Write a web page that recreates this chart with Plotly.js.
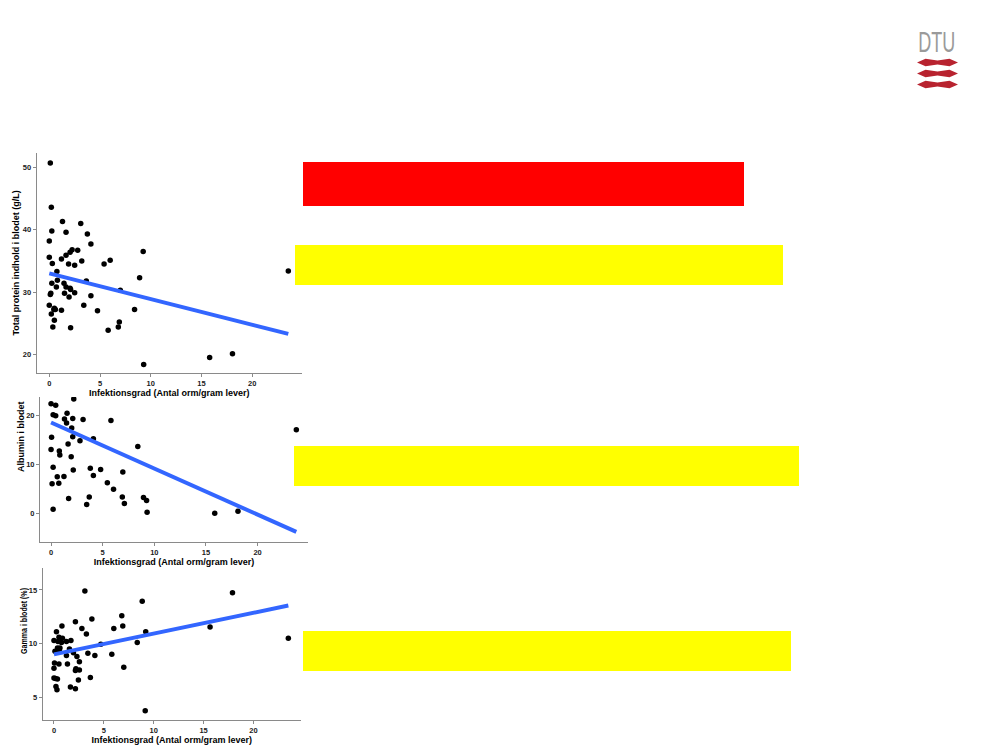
<!DOCTYPE html>
<html><head><meta charset="utf-8">
<script src="https://cdn.plot.ly/plotly-3.0.1.min.js"></script>
<style>html,body{margin:0;padding:0;background:#fff;}</style>
</head><body>
<div id="chart" style="width:1000px;height:750px"></div>
<script>
// ---------- data ----------
const xAxisTitle = 'Infektionsgrad (Antal orm/gram lever)';
const yTitles = ['Total protein indhold i blodet (g/L)', 'Albumin i blodet', 'Gamma i blodet (%)'];
const xTicks = [0, 5, 10, 15, 20];
const protTicks = [20, 30, 40, 50];
const albTicks = [0, 10, 20];
const gamTicks = [5, 10, 15];

const protX = [0.1,0.2,1.3,3.1,0.25,1.65,3.75,0.0,4.1,2.25,2.8,2.05,9.25,0.0,1.2,1.65,3.2,0.3,1.9,2.5,5.4,6.0,0.75,8.9,0.25,0.8,1.45,3.65,1.65,2.05,2.1,0.7,7.0,1.5,0.1,0.15,2.5,1.95,4.1,0.0,3.4,0.5,0.45,0.6,1.2,4.75,8.4,0.2,0.5,0.35,2.1,5.8,6.8,6.9,9.3,15.8,18.05,23.55];
const protY = [50.7,43.6,41.3,41.0,39.8,39.6,39.3,38.2,37.7,36.8,36.7,36.4,36.5,35.6,35.3,35.9,35.0,34.6,34.5,34.3,34.5,35.1,33.3,32.3,31.4,31.9,31.4,31.8,30.8,30.6,30.4,30.8,30.3,29.8,29.6,29.8,29.9,29.2,29.4,27.9,27.9,27.4,27.2,27.2,27.1,27.0,27.2,26.5,25.5,24.4,24.3,23.9,24.4,25.2,18.4,19.5,20.1,33.4];
const protFitX = [0, 23.55];
const protFitY = [33.0, 23.3];

const albX = [0,0.45,2.2,0.2,0.45,1.55,1.3,2.1,1.5,3.1,5.8,2.0,0.05,2.1,4.1,2.8,1.65,8.4,0,0.8,0.85,1.95,0.2,3.8,4.8,2.15,6.95,4.1,0.6,1.25,0.75,0.1,5.45,6.05,6.9,3.7,1.7,8.95,9.25,7.1,3.45,0.2,9.3,15.85,18.1,23.75];
const albY = [22.4,22.1,23.4,20.2,20.0,20.5,19.3,19.4,18.5,19.2,19.0,17.5,15.6,15.7,15.3,14.9,14.2,13.7,13.1,12.8,12.0,11.6,9.5,9.25,9.0,8.9,8.5,7.8,7.55,7.6,6.2,6.1,6.3,5.0,3.4,3.4,3.1,3.3,2.7,2.1,1.9,0.9,0.3,0.1,0.5,17.1];
const albFitX = [0, 23.75];
const albFitY = [18.6, -3.7];

const gamX = [3.1,17.9,8.85,6.8,3.8,2.15,6.9,0.8,6.0,2.8,15.65,0.25,9.2,3.25,23.5,0.5,0.85,0,0.4,0.75,1.25,1.7,8.35,4.7,0.35,0.6,1.55,0.1,0.55,1.95,3.4,5.8,1.25,4.1,2.3,0.05,2.55,0.5,1.35,7.0,2.2,0,2.55,2.15,3.65,0,0.15,0.35,2.45,0.2,1.65,0.3,2.15,9.15];
const gamY = [14.9,14.75,13.95,12.6,12.3,12.05,11.65,11.65,11.4,11.4,11.55,11.1,11.1,10.9,10.5,10.6,10.5,10.3,10.2,10.1,10.2,10.3,10.1,9.95,9.6,9.6,9.5,9.3,9.3,9.15,9.1,9.0,8.9,8.9,8.8,8.2,8.3,8.1,8.1,7.8,7.65,7.7,7.55,7.5,6.85,6.8,6.75,6.7,6.6,6.0,5.95,5.7,5.8,3.75];
const gamFitX = [0, 23.5];
const gamFitY = [9.0, 13.55];

// ---------- helpers ----------
const W = 1000, H = 750;
const fx = p => p / W;
const fy = p => 1 - p / H;
const FONT = 'Liberation Sans, Arial, sans-serif';
const LINEC = '#8a8a8a';
const TITLEFONT = {family: FONT, size: 9, color: '#000', weight: 'bold'};

function pts(x, y, xa, ya) {
  return {x: x, y: y, xaxis: xa, yaxis: ya, type: 'scatter', mode: 'markers',
    marker: {color: '#000', size: 5.5}, hoverinfo: 'x+y'};
}
function fit(x, y, xa, ya) {
  return {x: x, y: y, xaxis: xa, yaxis: ya, type: 'scatter', mode: 'lines',
    line: {color: '#3366FF', width: 4}, hoverinfo: 'skip'};
}
function xax(domain, range, anchor) {
  return {domain: domain, range: range, anchor: anchor, tickvals: xTicks,
    showline: true, linecolor: LINEC, linewidth: 1, ticks: 'outside', ticklen: 3,
    tickcolor: LINEC, showgrid: false, zeroline: false, fixedrange: true,
    tickfont: {family: FONT, size: 7.5, color: '#222', weight: 'bold'},
    title: {text: xAxisTitle, standoff: 2, font: TITLEFONT}};
}
function yax(domain, range, anchor, ticks, title) {
  return {domain: domain, range: range, anchor: anchor, tickvals: ticks,
    showline: true, linecolor: LINEC, linewidth: 1, ticks: 'outside', ticklen: 3,
    tickcolor: LINEC, showgrid: false, zeroline: false, fixedrange: true,
    tickfont: {family: FONT, size: 7.5, color: '#222', weight: 'bold'},
    title: {text: title, standoff: 1, font: TITLEFONT}};
}
function rect(x0, y0, x1, y1, color) {
  return {type: 'rect', xref: 'paper', yref: 'paper', x0: fx(x0), x1: fx(x1), y0: fy(y1), y1: fy(y0),
    fillcolor: color, line: {width: 0}, layer: 'above'};
}
function bone(cy) {
  const p = [[917, cy], [925.5, cy - 3.7], [937.5, cy - 2.1], [949.5, cy - 3.7], [958, cy],
             [949.5, cy + 3.7], [937.5, cy + 2.1], [925.5, cy + 3.7]];
  const d = 'M ' + p.map(q => fx(q[0]) + ',' + fy(q[1])).join(' L ') + ' Z';
  return {type: 'path', xref: 'paper', yref: 'paper', path: d, fillcolor: '#B8232F', line: {width: 0}};
}
function yTitleNote(text, cx, cy, size) {
  return {text: text, xref: 'paper', yref: 'paper', x: fx(cx), y: fy(cy), xanchor: 'center', yanchor: 'middle',
    textangle: -90, showarrow: false, font: {family: FONT, size: size, color: '#000', weight: 'bold'}};
}

const data = [
  pts(protX, protY, 'x', 'y'), fit(protFitX, protFitY, 'x', 'y'),
  pts(albX, albY, 'x2', 'y2'), fit(albFitX, albFitY, 'x2', 'y2'),
  pts(gamX, gamY, 'x3', 'y3'), fit(gamFitX, gamFitY, 'x3', 'y3')
];

const layout = {
  width: W, height: H, margin: {l: 0, r: 0, t: 0, b: 0},
  paper_bgcolor: '#fff', plot_bgcolor: 'rgba(0,0,0,0)', showlegend: false,
  font: {family: FONT},
  xaxis: xax([fx(36.7), fx(301.7)], [-1.24, 24.87], 'y'),
  yaxis: yax([fy(372.7), fy(153)], [17.08, 52.3], 'x', protTicks, yTitles[0]),
  xaxis2: xax([fx(40), fx(308)], [-1.07, 24.88], 'y2'),
  yaxis2: Object.assign(yax([fy(541.7), fy(397)], [-5.7, 23.8], 'x2', albTicks, ''), {title: {text: ''}}),
  xaxis3: xax([fx(42.7), fx(301)], [-1.13, 24.77], 'y3'),
  yaxis3: Object.assign(yax([fy(720), fy(568)], [2.88, 17.05], 'x3', gamTicks, ''), {title: {text: ''}}),
  shapes: [
    rect(303, 162, 744, 206, '#FF0000'),
    rect(295, 245, 783, 285, '#FFFF00'),
    rect(294, 446, 799, 486, '#FFFF00'),
    rect(303, 631, 791, 671, '#FFFF00'),
    bone(62.5), bone(73.5), bone(84.5)
  ],
  annotations: [
    {text: 'DTU', xref: 'paper', yref: 'paper', x: fx(937), y: fy(41.5), xanchor: 'center', yanchor: 'middle',
     showarrow: false, font: {family: 'Liberation Sans, Arial', size: 30, color: '#9a9a9a'}},
    yTitleNote(yTitles[1], 21, 437, 9),
    yTitleNote(yTitles[2], 24, 621, 9)
  ]
};

Plotly.newPlot('chart', data, layout, {displayModeBar: false, staticPlot: true}).then(function (gd) {
  // condense the DTU lettering and the vertically squeezed gamma title, as in the slide
  gd.querySelectorAll('.annotation-text').forEach(function (t) {
    if (t.textContent === 'DTU') {
      t.setAttribute('textLength', '37');
      t.setAttribute('lengthAdjust', 'spacingAndGlyphs');
    } else if (t.textContent === yTitles[2]) {
      t.setAttribute('textLength', '66');
      t.setAttribute('lengthAdjust', 'spacingAndGlyphs');
    }
  });
});
</script>
</body></html>
